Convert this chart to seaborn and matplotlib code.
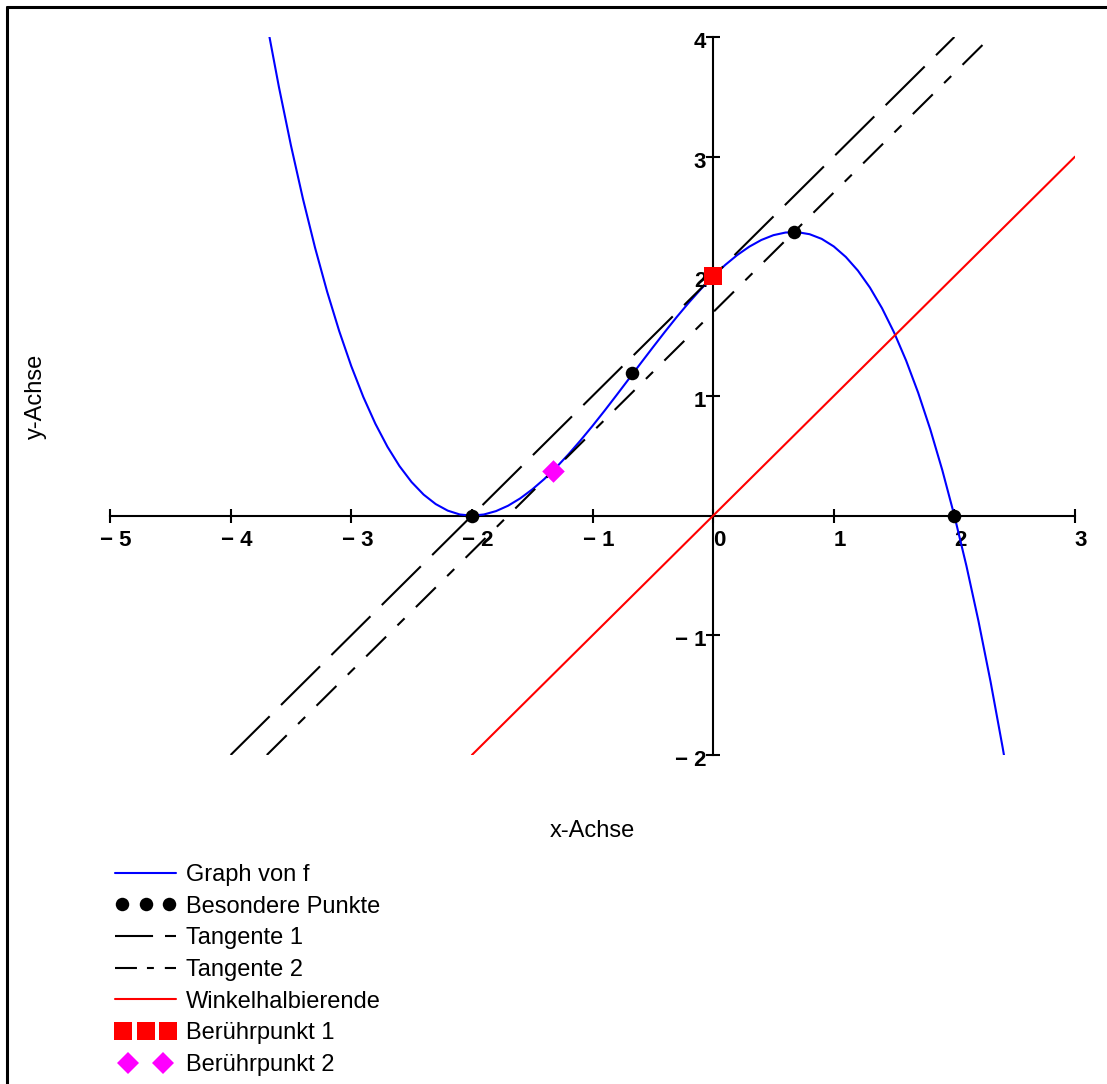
import matplotlib
matplotlib.use("Agg")
import matplotlib.pyplot as plt
import matplotlib.transforms as mtransforms
import seaborn as sns
from matplotlib.lines import Line2D
from matplotlib.legend_handler import HandlerLine2D

# graph of f (step 0.1 in x)
f_x = [-3.7, -3.6, -3.5, -3.4, -3.3, -3.2, -3.1, -3.0, -2.9, -2.8,
       -2.7, -2.6, -2.5, -2.4, -2.3, -2.2, -2.1, -2.0, -1.9, -1.8,
       -1.7, -1.6, -1.5, -1.4, -1.3, -1.2, -1.1, -1.0, -0.9, -0.8,
       -0.7, -0.6, -0.5, -0.4, -0.3, -0.2, -0.1, 0.0, 0.1, 0.2,
       0.3, 0.4, 0.5, 0.6, 0.7, 0.8, 0.9, 1.0, 1.1, 1.2,
       1.3, 1.4, 1.5, 1.6, 1.7, 1.8, 1.9, 2.0, 2.1, 2.2,
       2.3, 2.4, 2.45]
f_y = [4.118, 3.584, 3.094, 2.646, 2.239, 1.872, 1.543, 1.25, 0.992, 0.768,
       0.576, 0.414, 0.281, 0.176, 0.097, 0.042, 0.010, 0.0, 0.010, 0.038,
       0.083, 0.144, 0.219, 0.306, 0.404, 0.512, 0.628, 0.75, 0.877, 1.008,
       1.141, 1.274, 1.406, 1.536, 1.662, 1.782, 1.895, 2.0, 2.095, 2.178,
       2.248, 2.304, 2.344, 2.366, 2.369, 2.352, 2.313, 2.25, 2.162, 2.048,
       1.906, 1.734, 1.531, 1.296, 1.027, 0.722, 0.380, 0.0, -0.420, -0.882,
       -1.387, -1.936, -2.228]

tan1_x = [-4.0, 2.0]
tan1_y = [-2.0, 4.0]
tan2_x = [-3.7, 2.3]
tan2_y = [-2.0, 4.0]
wh_x = [-2.0, 3.0]
wh_y = [-2.0, 3.0]

pts_x = [-2.0, -0.67, 0.67, 2.0]
pts_y = [0.0, 1.19, 2.37, 0.0]
bp1_x = [0.0]
bp1_y = [2.0]
bp2_x = [-1.33]
bp2_y = [0.37]

xticks = [-5, -4, -3, -2, -1, 0, 1, 2, 3]
xticklabels = ["\u2212 5", "\u2212 4", "\u2212 3", "\u2212 2", "\u2212 1", "0", "1", "2", "3"]
yticks = [-2, -1, 1, 2, 3, 4]
yticklabels = ["\u2212 2", "\u2212 1", "1", "2", "3", "4"]

legend_labels = ["Graph von f", "Besondere Punkte", "Tangente 1", "Tangente 2",
                 "Winkelhalbierende", "Berührpunkt 1", "Berührpunkt 2"]

BLUE = "#0000ff"
RED = "#ff0000"
MAGENTA = "#ff00ff"

sns.set_style("white", {"axes.edgecolor": "black", "text.color": "black",
                        "xtick.color": "black", "ytick.color": "black",
                        "axes.labelcolor": "black",
                        "xtick.bottom": True, "ytick.left": True})
plt.rcParams["font.family"] = ["Liberation Sans", "DejaVu Sans"]
plt.rcParams["lines.scale_dashes"] = False

W, H = 1107, 1084
fig = plt.figure(figsize=(W / 100, H / 100), dpi=100)
ax = fig.add_axes([110 / W, 329 / H, 965 / W, 718 / H])

sns.lineplot(x=f_x, y=f_y, sort=False, color=BLUE, linewidth=1.5, ax=ax, zorder=3)
sns.lineplot(x=tan1_x, y=tan1_y, sort=False, color="black", linewidth=1.5,
             linestyle=(0, (39.6, 11.5)), ax=ax, zorder=3)
sns.lineplot(x=tan2_x, y=tan2_y, sort=False, color="black", linewidth=1.5,
             linestyle=(0, (20.2, 11.5, 7.2, 11.5)), ax=ax, zorder=3)
sns.lineplot(x=wh_x, y=wh_y, sort=False, color=RED, linewidth=1.5, ax=ax, zorder=3)

sns.scatterplot(x=pts_x, y=pts_y, color="black", s=95, linewidth=0, ax=ax, zorder=4)
sns.scatterplot(x=bp1_x, y=bp1_y, color=RED, marker="s", s=156, linewidth=0, ax=ax, zorder=5)
sns.scatterplot(x=bp2_x, y=bp2_y, color=MAGENTA, marker="D", s=132, linewidth=0, ax=ax, zorder=5)

ax.set_xlim(-5, 3)
ax.set_ylim(-2, 4)

# axes through the origin
for s in ["top", "right"]:
    ax.spines[s].set_visible(False)
for s in ["left", "bottom"]:
    ax.spines[s].set_position(("data", 0))
    ax.spines[s].set_linewidth(1.5)
    ax.spines[s].set_zorder(1)

ax.set_xticks(xticks, xticklabels, fontweight="bold", fontsize=16)
ax.set_yticks(yticks, yticklabels, fontweight="bold", fontsize=16)
ax.tick_params(axis="both", which="major", bottom=True, left=True,
               direction="inout", length=10, width=1.5)
ax.tick_params(axis="x", pad=5.5)
ax.tick_params(axis="y", pad=0)

# Maple style: labels a bit right of / below their ticks
dx = mtransforms.ScaledTranslation(6 / 100, 0, fig.dpi_scale_trans)
dy = mtransforms.ScaledTranslation(0, -3 / 100, fig.dpi_scale_trans)
for lbl in ax.get_xticklabels():
    lbl.set_transform(lbl.get_transform() + dx)
for lbl in ax.get_yticklabels():
    lbl.set_transform(lbl.get_transform() + dy)

ax.set_xlabel("x-Achse", fontsize=17, va="center")
ax.xaxis.set_label_coords(0.5, -(831 - 755) / 718)
ax.set_ylabel("y-Achse", fontsize=17, va="center")
ax.yaxis.set_label_coords((36 - 110) / 965, 0.5)

# legend with Maple-like handles
h_graph = Line2D([], [], color=BLUE, linewidth=1.5)
h_pts = Line2D([], [], color="black", marker="o", markersize=9.7, markeredgewidth=0, linestyle="none")
h_t1 = Line2D([], [], color="black", linewidth=1.5, linestyle=(0, (27.4, 8.6)))
h_t2 = Line2D([], [], color="black", linewidth=1.5, linestyle=(0, (15.8, 7.2, 5.0, 7.9)))
h_wh = Line2D([], [], color=RED, linewidth=1.5)
h_bp1 = Line2D([], [], color=RED, marker="s", markersize=12.5, markeredgewidth=0, linestyle="none")
h_bp2 = Line2D([], [], color=MAGENTA, marker="D", markersize=11.5, markeredgewidth=0, linestyle="none")

fig.legend([h_graph, h_pts, h_t1, h_t2, h_wh, h_bp1, h_bp2], legend_labels,
           loc="upper left", bbox_to_anchor=(115 / W, 1 - 864 / H),
           frameon=False, fontsize=17, numpoints=1, handlelength=2.6,
           handletextpad=0.42, labelspacing=0.41, borderpad=0, borderaxespad=0,
           handler_map={h_pts: HandlerLine2D(numpoints=3),
                        h_bp1: HandlerLine2D(numpoints=3, marker_pad=0.35),
                        h_bp2: HandlerLine2D(numpoints=2, marker_pad=0.55)})

# frame of the original export (only top and left edges are visible)
fig.add_artist(Line2D([6.5 / W, 1], [1 - 6.5 / H, 1 - 6.5 / H], transform=fig.transFigure,
                      color="black", linewidth=2.2))
fig.add_artist(Line2D([6.5 / W, 6.5 / W], [0, 1 - 6.5 / H], transform=fig.transFigure,
                      color="black", linewidth=2.2))

fig.savefig("out.png", dpi=100)
